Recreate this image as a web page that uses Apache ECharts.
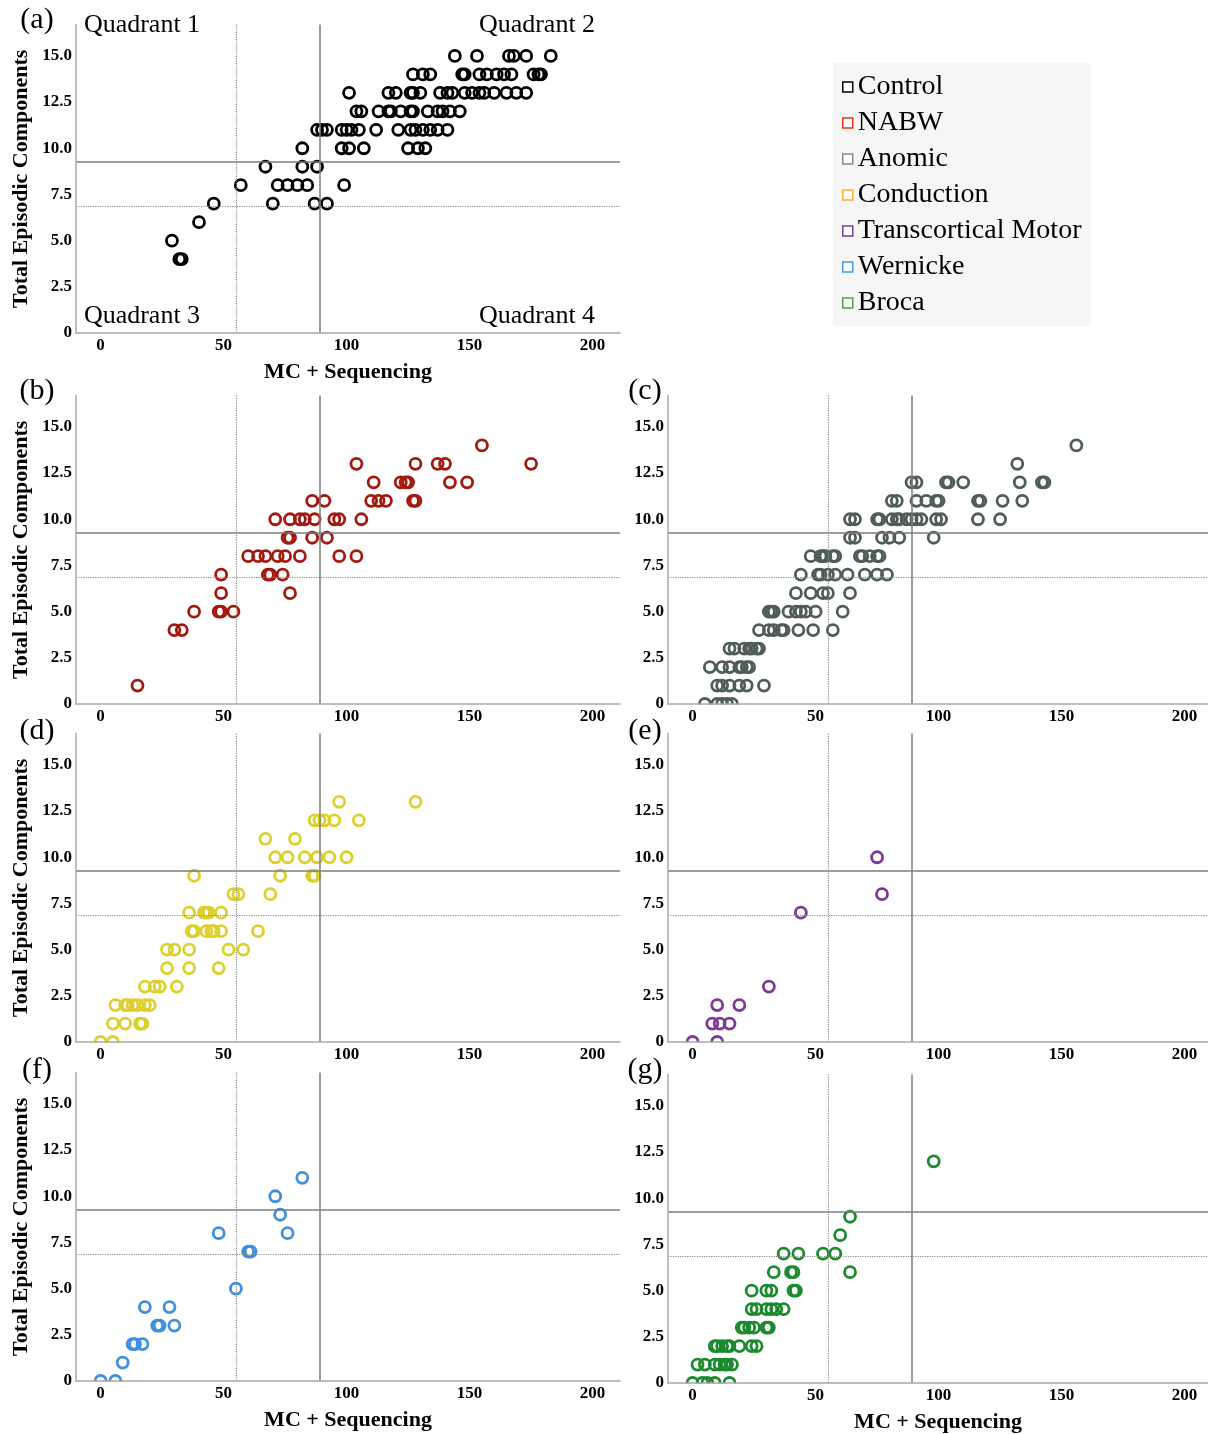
<!DOCTYPE html>
<html><head><meta charset="utf-8">
<script src="https://cdn.jsdelivr.net/npm/echarts@6/dist/echarts.min.js"></script>
<style>html,body{margin:0;padding:0;background:#fff}#c{width:1208px;height:1434px}</style>
</head><body><div id="c"></div>
<script>
// ---------- data ----------
const groups = ['Control','NABW','Anomic','Conduction','Transcortical Motor','Wernicke','Broca'];
const panelLetters = ['(a)','(b)','(c)','(d)','(e)','(f)','(g)'];
const quadrantLabels = ['Quadrant 1','Quadrant 2','Quadrant 3','Quadrant 4'];
const xTicks = [0,50,100,150,200];
const yTicks = [0,2.5,5,7.5,10,12.5,15];
const xTitle = 'MC + Sequencing';
const yTitle = 'Total Episodic Components';
const hSolid = 9.25, hDotted = 6.85, vSolid = 89.2, vDotted = 55;

const control = [[144,15],[153,15],[166,15],[168,15],[173,15],[183,15],
[127,14],[131,14],[134,14],[147,14],[148,14],[154,14],[157,14],[161,14],[164,14],[167,14],[176,14],[178,14],[179,14],
[101,13],[117,13],[120,13],[126,13],[127,13],[130,13],[138,13],[141,13],[143,13],[148,13],[151,13],[154,13],[156,13],[160,13],[165,13],[169,13],[173,13],
[104,12],[106,12],[113,12],[117,12],[118,12],[122,12],[126,12],[127,12],[133,12],[137,12],[139,12],[142,12],[146,12],
[88,11],[90,11],[92,11],[98,11],[100,11],[102,11],[105,11],[112,11],[121,11],[126,11],[128,11],[131,11],[134,11],[137,11],[141,11],
[82,10],[98,10],[101,10],[107,10],[125,10],[129,10],[132,10],
[67,9],[82,9],[88,9],
[57,8],[72,8],[76,8],[80,8],[84,8],[99,8],
[46,7],[70,7],[87,7],[92,7],
[40,6],[29,5],[32,4],[33,4]];

const nabw = [[155,14],
[104,13],[128,13],[137,13],[140,13],[175,13],
[111,12],[122,12],[124,12],[125,12],[142,12],[149,12],
[86,11],[91,11],[110,11],[113,11],[116,11],[127,11],[128,11],
[71,10],[77,10],[81,10],[83,10],[87,10],[95,10],[97,10],[106,10],
[76,9],[77,9],[86,9],[92,9],
[60,8],[64,8],[67,8],[72,8],[75,8],[81,8],[97,8],[104,8],
[49,7],[68,7],[69,7],[74,7],
[49,6],[77,6],
[38,5],[48,5],[49,5],[54,5],
[30,4],[33,4],
[15,1]];

const anomic = [[156,14],
[132,13],
[89,12],[91,12],[103,12],[104,12],[110,12],[133,12],[142,12],[143,12],
[81,11],[83,11],[91,11],[95,11],[99,11],[100,11],[116,11],[117,11],[126,11],[134,11],
[64,10],[66,10],[75,10],[76,10],[81,10],[83,10],[84,10],[87,10],[89,10],[91,10],[93,10],[99,10],[101,10],[116,10],[125,10],
[64,9],[66,9],[77,9],[80,9],[84,9],[98,9],
[48,8],[52,8],[53,8],[54,8],[57,8],[58,8],[68,8],[69,8],[72,8],[75,8],[76,8],
[44,7],[51,7],[52,7],[55,7],[58,7],[63,7],[70,7],[75,7],[79,7],
[42,6],[48,6],[53,6],[55,6],[64,6],
[31,5],[32,5],[33,5],[39,5],[42,5],[44,5],[46,5],[50,5],[61,5],
[27,4],[31,4],[33,4],[36,4],[37,4],[43,4],[49,4],[57,4],
[15,3],[17,3],[21,3],[23,3],[24,3],[26,3],[27,3],
[7,2],[12,2],[15,2],[19,2],[20,2],[22,2],[23,2],
[10,1],[12,1],[15,1],[19,1],[22,1],[29,1],
[5,0],[10,0],[12,0],[14,0],[16,0]];

const conduction = [[97,13],[128,13],
[87,12],[89,12],[91,12],[95,12],[105,12],
[67,11],[79,11],
[71,10],[76,10],[83,10],[88,10],[93,10],[100,10],
[38,9],[73,9],[86,9],[87,9],
[54,8],[56,8],[69,8],
[36,7],[42,7],[43,7],[44,7],[49,7],
[37,6],[38,6],[43,6],[45,6],[46,6],[49,6],[64,6],
[27,5],[30,5],[36,5],[52,5],[58,5],
[27,4],[36,4],[48,4],
[18,3],[22,3],[24,3],[31,3],
[6,2],[10,2],[11,2],[13,2],[15,2],[18,2],[20,2],
[5,1],[10,1],[16,1],[17,1],
[0,0],[5,0]];

const transMotor = [[75,10],[77,8],[44,7],[31,3],[10,2],[19,2],[8,1],[11,1],[15,1],[0,0],[10,0]];

const wernicke = [[82,11],[71,10],[73,9],[48,8],[76,8],[60,7],[61,7],[55,5],[18,4],[28,4],[23,3],[24,3],[30,3],[13,2],[14,2],[17,2],[9,1],[0,0],[6,0]];

const broca = [[98,12],[64,9],[60,8],[37,7],[43,7],[53,7],[58,7],[33,6],[40,6],[41,6],[64,6],
[24,5],[30,5],[32,5],[41,5],[42,5],[24,4],[26,4],[30,4],[32,4],[34,4],[37,4],
[20,3],[21,3],[23,3],[25,3],[30,3],[31,3],
[9,2],[10,2],[12,2],[14,2],[15,2],[19,2],[24,2],[26,2],
[2,1],[5,1],[9,1],[11,1],[13,1],[14,1],[16,1],
[0,0],[4,0],[6,0],[9,0],[15,0]];

const groupData = [control, nabw, anomic, conduction, transMotor, wernicke, broca];

// ---------- styles / layout ----------
const markerColors = ['#000000','#a3180f','#4e5e57','#ddd02c','#7c3995','#3f8fdf','#1b8a2d'];
const legendColors = ['#000000','#e8302a','#8a8a8a','#f3b331','#7a3c9c','#4a97dd','#45a845'];
const SERIF = '"Liberation Serif","Times New Roman",serif';
const PXU = 2.46;        // px per x unit
const YMAX = 16.7, PH = 308.5;
const layout = [
  {left:76,  bottom:333,  w:544, xName:true,  yName:true},
  {left:76,  bottom:704,  w:544, xName:false, yName:true},
  {left:668, bottom:704,  w:540, xName:false, yName:false},
  {left:76,  bottom:1042, w:544, xName:false, yName:true},
  {left:668, bottom:1042, w:540, xName:false, yName:false},
  {left:76,  bottom:1381, w:544, xName:true,  yName:true},
  {left:668, bottom:1383, w:540, xName:true,  yName:false}
];

const grids = [], xAxes = [], yAxes = [], series = [], graphics = [];
layout.forEach((L, i) => {
  grids.push({left: L.left, top: L.bottom - PH, width: L.w, height: PH});
  xAxes.push({
    type:'value', gridIndex:i, min:-10, max:-10 + L.w / PXU, z:10,
    splitLine:{show:false}, axisTick:{show:false},
    axisLine:{show:true, onZero:false, lineStyle:{color:'#a9a9a9', width:1.5}},
    axisLabel:{customValues:xTicks, margin:4, color:'#000', fontFamily:SERIF, fontWeight:'bold', fontSize:17},
    name: L.xName ? xTitle : '', nameLocation:'middle', nameGap:28,
    nameTextStyle:{color:'#000', fontFamily:SERIF, fontWeight:'bold', fontSize:22}
  });
  yAxes.push({
    type:'value', gridIndex:i, min:0, max:YMAX, z:10,
    splitLine:{show:false}, axisTick:{show:false},
    axisLine:{show:true, onZero:false, lineStyle:{color:'#a9a9a9', width:1.5}},
    axisLabel:{customValues:yTicks, margin:4, color:'#000', fontFamily:SERIF, fontWeight:'bold', fontSize:17,
      formatter: v => v === 0 ? '0' : v.toFixed(1)},
    name: L.yName ? yTitle : '', nameLocation:'middle', nameGap:44,
    nameTextStyle:{color:'#000', fontFamily:SERIF, fontWeight:'bold', fontSize:22}
  });
  series.push({
    name: groups[i], type:'scatter', xAxisIndex:i, yAxisIndex:i,
    data: groupData[i], symbol:'circle', symbolSize:11, clip:true,
    itemStyle:{color:'rgba(0,0,0,0)', borderColor:markerColors[i], borderWidth:2.8, opacity:1},
    emphasis:{disabled:true},
    markLine:{
      silent:true, symbol:['none','none'], label:{show:false}, animation:false,
      data:[
        {yAxis:hSolid, lineStyle:{type:'solid', color:'#7d7d7d', width:1.5}},
        {yAxis:hDotted, lineStyle:{type:'dotted', color:'#8a8a8a', width:1.2}},
        {xAxis:vSolid, lineStyle:{type:'solid', color:'#7d7d7d', width:1.5}},
        {xAxis:vDotted, lineStyle:{type:'dotted', color:'#8a8a8a', width:1.2}}
      ]
    }
  });
  // mask so that markers sitting on the x axis are cut at the plot edge
  graphics.push({type:'rect', z:5, silent:true,
    shape:{x:L.left + 1, y:L.bottom + 0.5, width:L.w, height:9},
    style:{fill:'#ffffff'}});
});

const labelPos = [[37,20],[37,391],[645,391],[37,731],[645,731],[37,1070],[645,1070]];
const quadPos = [[142,25],[537,25],[142,316],[537,316]];
labelPos.forEach((p, i) => graphics.push({type:'text', z:100,
  style:{text:panelLetters[i], x:p[0], y:p[1], fill:'#000', font:'30px ' + SERIF, align:'center', verticalAlign:'middle'}}));
quadPos.forEach((p, i) => graphics.push({type:'text', z:100,
  style:{text:quadrantLabels[i], x:p[0], y:p[1], fill:'#000', font:'26px ' + SERIF, align:'center', verticalAlign:'middle'}}));

const chart = echarts.init(document.getElementById('c'), null, {renderer:'canvas'});
chart.setOption({
  animation:false,
  backgroundColor:'#ffffff',
  grid: grids, xAxis: xAxes, yAxis: yAxes, series: series,
  graphic: graphics,
  legend:{
    orient:'vertical', left:833, top:63, selectedMode:false,
    backgroundColor:'#f6f6f6', padding:[10,9,9,9],
    itemWidth:10, itemHeight:10, itemGap:8,
    textStyle:{color:'#000', fontFamily:SERIF, fontSize:28, lineHeight:28},
    data: groups.map((g, i) => ({name:g, icon:'rect',
      itemStyle:{color:'#ffffff', borderColor:legendColors[i], borderWidth:1.5}}))
  }
});
</script>
</body></html>
